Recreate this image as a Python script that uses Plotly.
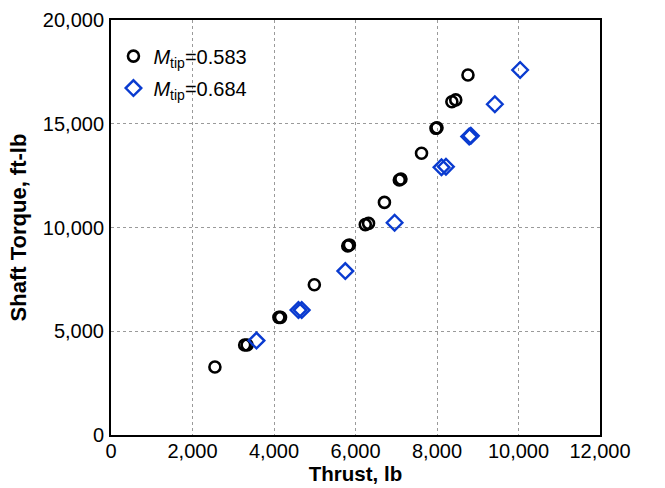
import plotly.graph_objects as go

# Mtip = 0.583 (black circles)
thrust_583 = [2550, 3280, 3340, 4120, 4160, 4990, 5810, 5850, 6240, 6320, 6710, 7075, 7115, 7620, 7975, 8000, 8365, 8460, 8760]
torque_583 = [3280, 4340, 4340, 5670, 5670, 7240, 9110, 9160, 10140, 10200, 11210, 12290, 12340, 13580, 14780, 14810, 16060, 16150, 17350]

# Mtip = 0.684 (blue diamonds)
thrust_684 = [3570, 4600, 4680, 5750, 6960, 8110, 8220, 8790, 8830, 9420, 10040]
torque_684 = [4550, 6020, 6020, 7900, 10230, 12900, 12930, 14380, 14420, 15940, 17590]

label_583 = "<i>M</i><sub>tip</sub>=0.583"
label_684 = "<i>M</i><sub>tip</sub>=0.684"

x_ticks = [0, 2000, 4000, 6000, 8000, 10000, 12000]
y_ticks = [0, 5000, 10000, 15000, 20000]

font_family = "Liberation Sans, Arial, Helvetica, sans-serif"

fig = go.Figure()
fig.add_trace(go.Scatter(
    x=thrust_583, y=torque_583, mode="markers", name=label_583, legendgroup="a",
    marker=dict(symbol="circle-open", size=11, color="black", line=dict(width=2.6, color="black")),
))
fig.add_trace(go.Scatter(
    x=thrust_684, y=torque_684, mode="markers", name=label_684, legendgroup="b",
    marker=dict(symbol="diamond-open", size=12, color="#0a3bd0", line=dict(width=2.4, color="#0a3bd0")),
))

axis_common = dict(
    showline=True, linecolor="black", linewidth=2, mirror=True,
    showgrid=True, gridcolor="#9a9a9a", gridwidth=1, griddash="dot",
    zeroline=False, ticks="", tickformat=",d", automargin=False,
    tickfont=dict(family=font_family, size=20, color="black"),
)

fig.update_layout(
    width=665, height=488,
    margin=dict(l=111, r=65, t=20, b=53),
    paper_bgcolor="white", plot_bgcolor="white",
    font=dict(family=font_family, color="black"),
    xaxis=dict(range=[0, 12000], tickvals=x_ticks, ticklabelstandoff=-3,
               title=dict(text="<b>Thrust, lb</b>", font=dict(size=20.5, family=font_family), standoff=2),
               **axis_common),
    yaxis=dict(range=[0, 20000], tickvals=y_ticks, ticklabelstandoff=1,
               title=dict(text="<b>Shaft Torque, ft-lb</b>", font=dict(size=22, family=font_family), standoff=10),
               **axis_common),
    legend=dict(x=0.005, y=0.96, xanchor="left", yanchor="top",
                bgcolor="rgba(0,0,0,0)", font=dict(size=20, family=font_family),
                itemwidth=30, traceorder="grouped", tracegroupgap=3),
    showlegend=True,
)

fig.write_html("out.html")
